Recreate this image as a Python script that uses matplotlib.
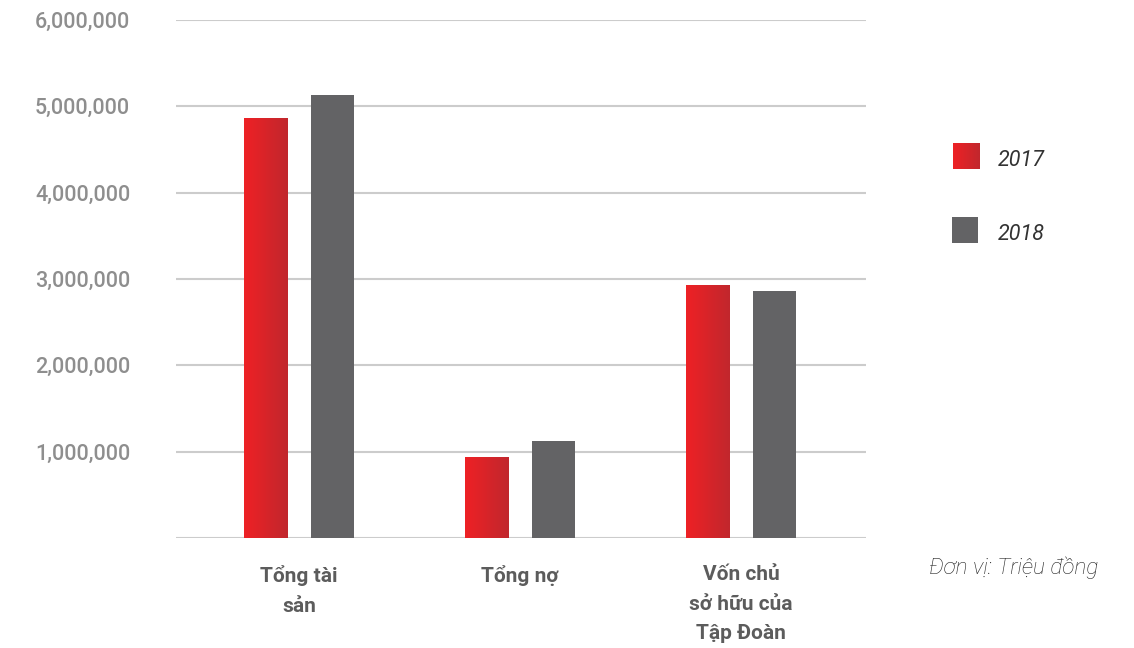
import numpy as np
import matplotlib.pyplot as plt
from matplotlib.colors import LinearSegmentedColormap

plt.rcParams["font.family"] = ["Roboto", "DejaVu Sans"]

# data (million VND)
categories = ["Tổng tài\nsản", "Tổng nợ", "Vốn chủ\nsở hữu của\nTập Đoàn"]
years = ["2017", "2018"]
val_2017 = [4860000, 930000, 2920000]
val_2018 = [5130000, 1120000, 2860000]
yticks = [1000000, 2000000, 3000000, 4000000, 5000000, 6000000]

red_grad = LinearSegmentedColormap.from_list("redg", ["#EE2125", "#C1272D"])
gray = "#636365"
grid_col = "#CCCCCC"

fig = plt.figure(figsize=(11.34, 6.48), dpi=100)
ax = fig.add_axes([176/1134, 1 - 538/648, 690/1134, 518/648])

x = np.arange(len(categories))
w = 0.195
off = 0.152
grad = np.linspace(0, 1, 100).reshape(1, -1)

bars_r = ax.bar(x - off, val_2017, w, color="#DD2328", zorder=2)
for b in bars_r:
    x0, y0 = b.get_x(), b.get_y()
    ax.imshow(grad, cmap=red_grad, aspect="auto", zorder=3,
              extent=[x0, x0 + b.get_width(), y0, y0 + b.get_height()])
ax.bar(x + off, val_2018, w, color=gray, zorder=3)

ax.set_xlim(-0.557, 2.566)
ax.set_ylim(0, 6000000)
ax.set_yticks([0] + yticks)
ax.set_yticklabels([""] + [f"{v:,}" for v in yticks], fontsize=15.5,
                   color="#8E8E8E", fontweight="medium")
ax.tick_params(axis="y", length=0, pad=33)
ax.set_xticks([])
for s in ax.spines.values():
    s.set_visible(False)
for v in [0] + yticks:
    ax.axhline(v, color=grid_col, lw=1.5, zorder=1)

for i, c in enumerate(categories):
    ax.text(x[i], -0.053, c, transform=ax.get_xaxis_transform(), ha="center",
            va="top", fontsize=15, fontweight="bold", color="#5C5C5C",
            linespacing=1.68)

# legend drawn by hand
def grad_square(rect, solid=None):
    a = fig.add_axes(rect)
    if solid:
        a.set_facecolor(solid)
    else:
        a.imshow(grad, cmap=red_grad, aspect="auto")
    a.set_xticks([])
    a.set_yticks([])
    for s in a.spines.values():
        s.set_visible(False)

grad_square([953/1134, 1 - 169/648, 26/1134, 26/648])
grad_square([952/1134, 1 - 243/648, 26/1134, 26/648], solid=gray)
fig.text(998/1134, 1 - 160/648, years[0], fontsize=15.5, style="italic",
         color="#333333", va="center")
fig.text(998/1134, 1 - 234/648, years[1], fontsize=15.5, style="italic",
         color="#333333", va="center")
fig.text(929/1134, 1 - 568/648, "Đơn vị: Triệu đồng", fontsize=16.2,
         style="italic", fontweight="light", color="#222222", va="center")

fig.savefig("out.png", dpi=100)
